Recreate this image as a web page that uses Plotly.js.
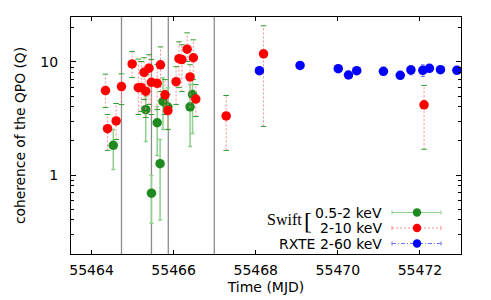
<!DOCTYPE html>
<html>
<head>
<meta charset="utf-8">
<script src="https://cdn.plot.ly/plotly-3.0.1.min.js"></script>
<style>html,body{margin:0;padding:0;background:#fff;}#chart{width:491px;height:300px;}</style>
</head>
<body>
<div id="chart"></div>
<script>
// Swift 0.5-2 keV (green)
const softX  = [55464.53, 55465.32, 55465.46, 55465.60, 55465.67, 55465.74, 55465.86, 55466.40, 55466.46];
const softQ  = [1.83, 3.78, 0.69, 2.90, 1.26, 4.47, 3.99, 4.01, 5.15];
const softHi = [2.53, 4.94, 0.99, 4.04, 2.06, 7.27, 5.93, 6.31, 7.73];
const softLo = [1.12, 1.98, 0.375, 1.49, 0.40, 2.53, 2.53, 1.79, 2.33];

// Swift 2-10 keV (red)
const hardX  = [55464.34, 55464.39, 55464.60, 55464.73, 55464.99, 55465.14, 55465.21, 55465.28, 55465.40, 55465.32, 55465.46, 55465.60, 55465.68, 55465.79, 55465.86, 55466.06, 55466.13, 55466.20, 55466.33, 55466.48, 55466.40, 55466.54, 55467.28, 55468.19, 55472.10];
const hardQ  = [5.58, 2.57, 3.01, 6.06, 9.60, 5.93, 5.93, 8.10, 8.82, 5.52, 6.61, 6.47, 9.43, 5.12, 3.72, 6.70, 10.7, 10.5, 12.97, 10.9, 7.38, 4.70, 3.33, 11.8, 4.18];
const hardHi = [7.80, 3.43, 4.29, 7.85, 12.4, 10.6, 10.1, 10.9, 11.6, 7.73, 10.5, 9.46, 13.6, 6.98, 5.15, 9.09, 15.1, 14.2, 18.1, 15.7, 9.46, 6.31, 5.05, 20.9, 6.2];
const hardLo = [3.95, 1.65, 2.06, 4.20, 7.27, 3.43, 3.65, 4.65, 4.20, 3.23, 3.43, 3.80, 5.47, 3.43, 2.53, 4.20, 5.93, 5.47, 10.1, 6.98, 3.95, 3.29, 1.65, 2.69, 1.69];

// RXTE 2-60 keV (blue)
const rxteX   = [55468.09, 55469.08, 55470.01, 55470.26, 55470.46, 55471.11, 55471.52, 55471.78, 55472.07, 55472.23, 55472.50, 55472.90];
const rxteQ   = [8.38, 9.33, 8.73, 7.67, 8.38, 8.26, 7.62, 8.50, 8.44, 8.78, 8.55, 8.44];
const rxteErr = [0.6, 0.3, 0.6, 0.3, 0.3, 0.3, 0.3, 0.8, 1.0, 0.3, 0.3, 0.3];

// vertical reference lines (MJD)
const vLines = [55464.73, 55465.46, 55465.87, 55466.99];

// axis ticks
const xTicks = [55464, 55466, 55468, 55470, 55472];
const yTicks = [1, 10];
const yTickText = ['1', '10'];
const yMinor = [0.2,0.3,0.4,0.5,0.6,0.7,0.8,0.9,2,3,4,5,6,7,8,9,20];

// legend labels
const legendLabels = ['0.5-2 keV', '2-10 keV', 'RXTE 2-60 keV'];

const GREEN = '#1f8a1f', RED = '#ff0000', BLUE = '#0000ff';
const PINK = '#ff8c8c', LGREEN = '#8fd08f', LBLUE = '#7070ff';
const SANS = 'DejaVu Sans, Verdana, sans-serif';
const SERIF = 'Liberation Serif, Times New Roman, serif';

// red dashed error bars built from data
const rbx = [], rby = [];
hardX.forEach((x, i) => { rbx.push(x, x, null); rby.push(hardLo[i], hardHi[i], null); });
const capX = hardX.concat(hardX);
const capY = hardHi.concat(hardLo);

const traces = [
  {
    x: softX, y: softQ, type: 'scatter', mode: 'markers',
    marker: {color: GREEN, size: 9.5},
    error_y: {type: 'data', symmetric: false,
      array: softQ.map((q, i) => softHi[i] - q),
      arrayminus: softQ.map((q, i) => q - softLo[i]),
      color: LGREEN, thickness: 1.5, width: 2},
    showlegend: false, hoverinfo: 'skip'
  },
  {
    x: rbx, y: rby, type: 'scatter', mode: 'lines',
    line: {color: PINK, width: 1, dash: '2px,2px'},
    showlegend: false, hoverinfo: 'skip', connectgaps: false
  },
  {
    x: capX, y: capY, type: 'scatter', mode: 'markers',
    marker: {symbol: 'line-ew-open', size: 4, line: {color: PINK, width: 1}},
    showlegend: false, hoverinfo: 'skip'
  },
  {
    x: hardX, y: hardQ, type: 'scatter', mode: 'markers',
    marker: {color: RED, size: 9.5},
    showlegend: false, hoverinfo: 'skip'
  },
  {
    x: rxteX, y: rxteQ, type: 'scatter', mode: 'markers',
    marker: {color: BLUE, size: 9.5},
    error_y: {type: 'data', array: rxteErr, color: LBLUE, thickness: 1, width: 2},
    showlegend: false, hoverinfo: 'skip'
  }
];

// plot area geometry in pixels (for paper conversions of legend)
const L = 71, R = 30, T = 17, B = 46, W = 491, H = 300;
const pw = W - L - R, ph = H - T - B;
const px = v => (v - L) / pw;
const py = v => (H - B - v) / ph;

const shapes = vLines.map(v => ({
  type: 'line', xref: 'x', yref: 'paper', x0: v, x1: v, y0: 0, y1: 1,
  line: {color: '#8c8c8c', width: 1.3}, layer: 'below'
}));

const legRowsY = [212.5, 228, 243.5];
const legCols = [GREEN, RED, BLUE];
const legLineCols = [LGREEN, PINK, LBLUE];
const legDash = ['solid', '2px,2px', '4px,2px,1px,2px'];
legRowsY.forEach((yy, i) => {
  shapes.push({type: 'line', xref: 'paper', yref: 'paper', x0: px(392), x1: px(441), y0: py(yy), y1: py(yy),
    line: {color: legLineCols[i], width: 1, dash: legDash[i]}});
  [392, 441].forEach(xx => shapes.push({type: 'line', xref: 'paper', yref: 'paper', x0: px(xx), x1: px(xx), y0: py(yy - 2), y1: py(yy + 2),
    line: {color: legLineCols[i], width: 1}}));
  shapes.push({type: 'circle', xref: 'paper', yref: 'paper', xsizemode: 'pixel', ysizemode: 'pixel',
    xanchor: px(417), yanchor: py(yy), x0: -4.2, x1: 4.2, y0: -4.2, y1: 4.2,
    fillcolor: legCols[i], line: {color: legCols[i], width: 0}});
});

const annotations = legendLabels.map((t, i) => ({
  xref: 'paper', yref: 'paper', x: px(384), y: py(legRowsY[i]), xanchor: 'right', yanchor: 'middle',
  text: t, showarrow: false, font: {family: SANS, size: 14, color: '#000'}
}));
annotations.push({xref: 'paper', yref: 'paper', x: px(304), y: py(219), xanchor: 'right', yanchor: 'middle',
  text: 'Swift', showarrow: false, font: {family: SERIF, size: 16, color: '#000'}});
annotations.push({xref: 'paper', yref: 'paper', x: px(302), y: py(221), xanchor: 'left', yanchor: 'middle',
  text: '[', showarrow: false, font: {family: SERIF, size: 24, color: '#000'}});

const layout = {
  width: W, height: H,
  margin: {l: L, r: R, t: T, b: B},
  paper_bgcolor: '#fff', plot_bgcolor: '#fff',
  font: {family: SANS, size: 14, color: '#000'},
  showlegend: false,
  xaxis: {
    range: [55463.5, 55473], tickvals: xTicks, tickformat: 'd',
    ticks: 'inside', ticklen: 4, tickcolor: '#000', tickwidth: 1,
    showline: true, linecolor: '#000', linewidth: 1, mirror: 'ticks',
    showgrid: false, zeroline: false, ticklabelstandoff: 3,
    tickfont: {family: SANS, size: 14},
    title: {text: 'Time (MJD)', font: {family: SANS, size: 14}, standoff: 5}
  },
  yaxis: {
    type: 'log', range: [Math.log10(0.2), Math.log10(25)],
    tickvals: yTicks, ticktext: yTickText,
    ticks: 'inside', ticklen: 5, tickcolor: '#000', tickwidth: 1,
    minor: {ticks: 'inside', ticklen: 3, tickvals: yMinor, tickcolor: '#000', showgrid: false},
    showline: true, linecolor: '#000', linewidth: 1, mirror: 'ticks',
    showgrid: false, zeroline: false, ticklabelstandoff: 9,
    tickfont: {family: SANS, size: 14},
    title: {text: 'coherence of the QPO (Q)', font: {family: SANS, size: 13.8}, standoff: 11}
  },
  shapes: shapes,
  annotations: annotations
};

Plotly.newPlot('chart', traces, layout, {displayModeBar: false, staticPlot: true});
</script>
</body>
</html>
